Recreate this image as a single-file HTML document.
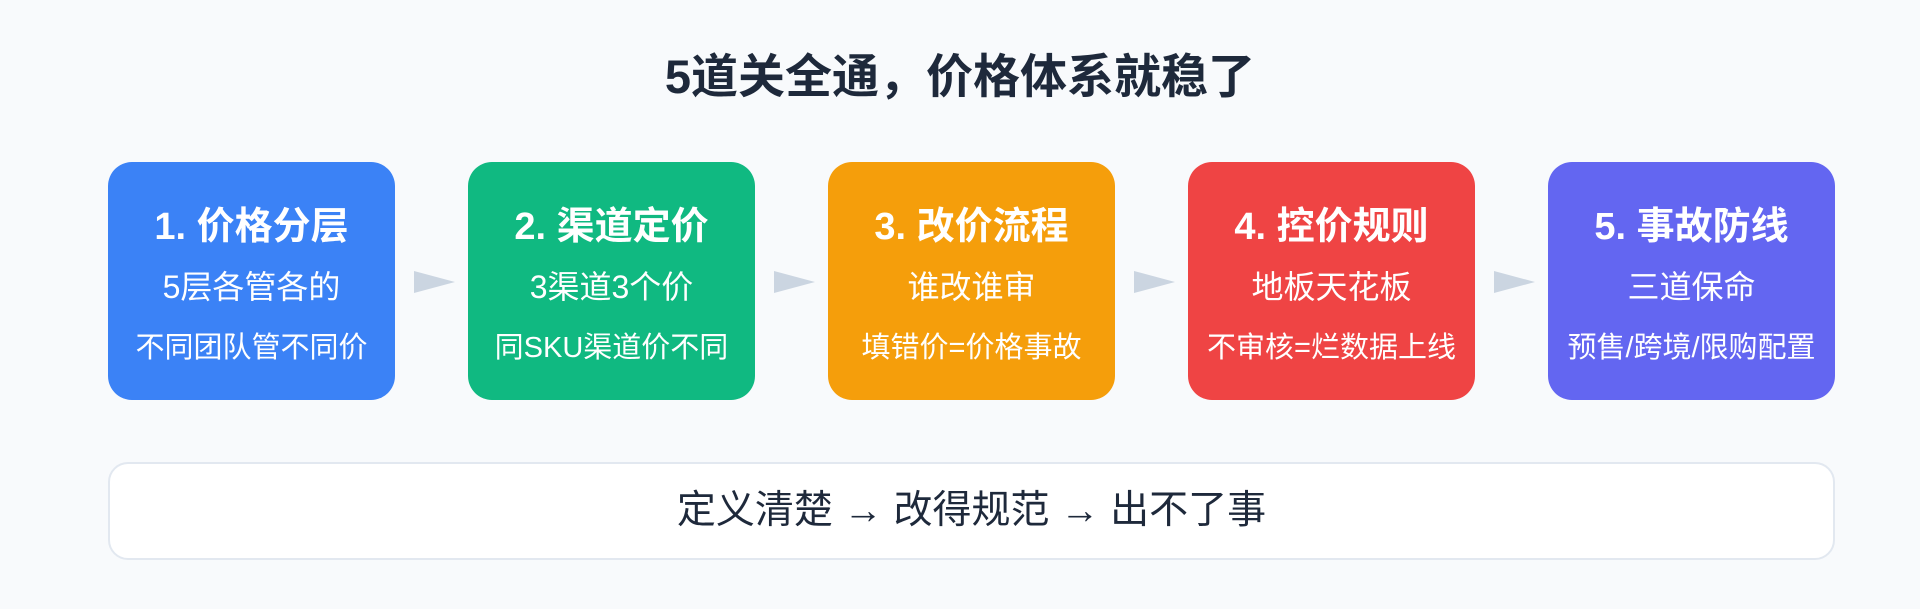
<!DOCTYPE html>
<html><head><meta charset="utf-8"><style>
*{margin:0;padding:0;box-sizing:border-box}
body{width:1920px;height:609px;background:#f8fafc;font-family:"Liberation Sans","Noto Sans CJK SC",sans-serif;position:relative;overflow:hidden}
.t{position:absolute;left:0;width:1920px;top:38px;text-align:center;font-size:47px;font-weight:bold;color:#1e293b}
.b{position:absolute;top:162px;width:287px;height:238px;border-radius:24px;color:#fff;text-align:center}
.b .h{position:absolute;top:33px;width:100%;font-size:38px;font-weight:bold}
.b .l{position:absolute;top:100px;width:100%;font-size:32px}
.b .s{position:absolute;top:162px;width:100%;font-size:29px}
.a{position:absolute;top:271px;width:0;height:0;border-top:11px solid transparent;border-bottom:11px solid transparent;border-left:41px solid #cbd5e1}
.f{position:absolute;left:108px;top:462px;width:1727px;height:98px;background:#fff;border:2px solid #e2e8f0;border-radius:20px;text-align:center;line-height:94px;font-size:39px;color:#1e293b}
</style></head><body>
<div class="t">5道关全通，价格体系就稳了</div>
<div class="b" style="left:108px;background:#3b82f6"><div class="h">1. 价格分层</div><div class="l">5层各管各的</div><div class="s">不同团队管不同价</div></div>
<div class="a" style="left:414px"></div>
<div class="b" style="left:468px;background:#10b981"><div class="h">2. 渠道定价</div><div class="l">3渠道3个价</div><div class="s">同SKU渠道价不同</div></div>
<div class="a" style="left:774px"></div>
<div class="b" style="left:828px;background:#f59e0b"><div class="h">3. 改价流程</div><div class="l">谁改谁审</div><div class="s">填错价=价格事故</div></div>
<div class="a" style="left:1134px"></div>
<div class="b" style="left:1188px;background:#ef4444"><div class="h">4. 控价规则</div><div class="l">地板天花板</div><div class="s">不审核=烂数据上线</div></div>
<div class="a" style="left:1494px"></div>
<div class="b" style="left:1548px;background:#6366f1"><div class="h">5. 事故防线</div><div class="l">三道保命</div><div class="s">预售/跨境/限购配置</div></div>
<div class="f">定义清楚 → 改得规范 → 出不了事</div>
</body></html>
